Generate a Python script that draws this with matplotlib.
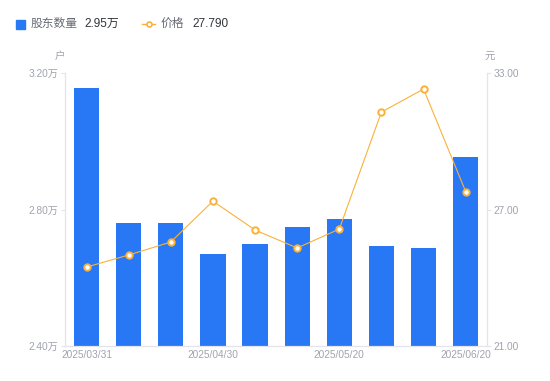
import matplotlib
matplotlib.use("Agg")
import matplotlib.pyplot as plt
from matplotlib.lines import Line2D
from matplotlib.patches import Rectangle

plt.rcParams["font.family"] = ["Liberation Sans", "Noto Sans CJK SC", "DejaVu Sans"]

dates = ["2025/03/31", "2025/04/10", "2025/04/20", "2025/04/30", "2025/05/10",
         "2025/05/15", "2025/05/20", "2025/05/31", "2025/06/10", "2025/06/20"]
holders = [3.156, 2.760, 2.760, 2.670, 2.699, 2.749, 2.772, 2.693, 2.687, 2.954]  # 万户
price = [24.47, 25.00, 25.57, 27.37, 26.10, 25.31, 26.14, 31.29, 32.30, 27.79]
shown_ticks = [0, 3, 6, 9]

BLUE = "#2878f5"
ORANGE = "#fbb139"
GREY = "#a0a3ad"
AXIS = "#e3e5ea"

fig = plt.figure(figsize=(5.5, 3.81), dpi=100, facecolor="white")
ax = fig.add_axes([0.119, 0.092, 0.766, 0.716])
ax2 = ax.twinx()

x = list(range(len(dates)))
ax.bar(x, [h - 2.40 for h in holders], bottom=2.40, width=0.6, color=BLUE, zorder=2)
ax.set_xlim(-0.5, len(dates) - 0.5)
ax.set_ylim(2.40, 3.20)
ax.set_yticks([2.40, 2.80, 3.20])
ax.set_yticklabels([f"{v:.2f}万" for v in (2.40, 2.80, 3.20)])
ax.set_xticks([x[i] for i in shown_ticks])
ax.set_xticklabels([dates[i] for i in shown_ticks])

ax2.plot(x, price, color=ORANGE, lw=0.8, marker="o", ms=4.6,
         mfc="white", mec=ORANGE, mew=1.4, zorder=3)
ax2.set_ylim(21, 33)
ax2.set_yticks([21, 27, 33])
ax2.set_yticklabels([f"{v:.2f}" for v in (21, 27, 33)])

for a in (ax, ax2):
    a.spines["top"].set_visible(False)
    for s in ("left", "right", "bottom"):
        a.spines[s].set_color(AXIS)
        a.spines[s].set_linewidth(0.8)
    a.tick_params(colors=AXIS, labelcolor=GREY, labelsize=7.3, length=3, width=0.8, pad=2)
ax.tick_params(axis="x", length=0, pad=3)
ax.set_zorder(ax2.get_zorder() - 1)
ax2.patch.set_visible(False)

fig.text(0.109, 0.852, "户", color=GREY, fontsize=7.5, ha="center", va="center")
fig.text(0.891, 0.852, "元", color=GREY, fontsize=7.5, ha="center", va="center")

# legend row
fig.patches.append(Rectangle((0.029, 0.925), 0.016, 0.023, transform=fig.transFigure,
                             color=BLUE, figure=fig))
fig.text(0.055, 0.937, "股东数量", color="#666a73", fontsize=8.5, va="center")
fig.text(0.154, 0.937, "2.95万", color="#303338", fontsize=8.5, va="center")
fig.lines.append(Line2D([0.259, 0.281], [0.937, 0.937], transform=fig.transFigure, color=ORANGE,
                        lw=1.0, figure=fig))
fig.lines.append(Line2D([0.270], [0.937], transform=fig.transFigure, color=ORANGE, lw=0,
                        marker="o", ms=3.6, mfc="white", mec=ORANGE, mew=1.2, figure=fig))
fig.text(0.291, 0.937, "价格", color="#666a73", fontsize=8.5, va="center")
fig.text(0.349, 0.937, "27.790", color="#303338", fontsize=8.5, va="center")

fig.savefig("out.png", dpi=100, facecolor="white")
